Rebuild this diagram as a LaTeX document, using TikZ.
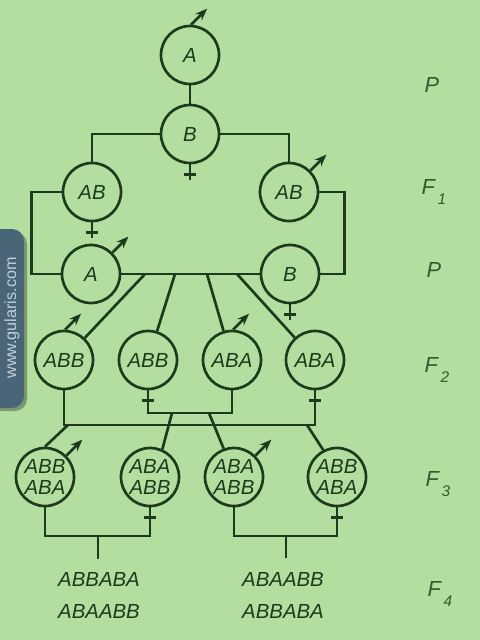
\documentclass[tikz,border=0pt]{standalone}
\usepackage{fontspec}
\setmainfont{Liberation Sans}
\usetikzlibrary{arrows.meta}
\definecolor{paper}{HTML}{B3DE9F}
\definecolor{ink}{HTML}{1E3A1C}
\definecolor{tag}{HTML}{2E5E30}
\definecolor{badge}{HTML}{4A6478}
\definecolor{badgetext}{HTML}{C2D0DA}

\tikzset{
  cell/.style={circle, draw=ink, line width=1.9pt, minimum size=1.45cm, inner sep=0pt,
               text=ink, align=center, font=\fontsize{14.5}{15.5}\selectfont\itshape},
  seq/.style={text=ink, font=\fontsize{14.5}{15.5}\selectfont\itshape},
  gen/.style={text=tag, font=\fontsize{15.5}{16}\selectfont\itshape},
  wire/.style={draw=ink, line width=1.9pt},
}
\newcommand{\male}[2]{\draw[wire, -{Stealth[length=3mm,width=2.3mm]}] (#1.#2) -- ++(0.4cm,0.4cm);}
\newcommand{\female}[1]{\draw[wire] (#1.south) -- ++(0,16) (#1.south) ++(-6,10) -- ++(12,0);}
\newcommand{\gsub}[1]{\kern0.12em\raisebox{-0.45em}{\fontsize{11}{11}\selectfont #1}}

\begin{document}
\begin{tikzpicture}[x=0.025cm, y=-0.025cm]
  \fill[paper] (0,0) rectangle (480,640);
  \useasboundingbox (0,0) rectangle (480,640);

  % site badge
  \fill[black, opacity=0.3, rounded corners=0.3cm] (-12,232) rectangle (27,411);
  \fill[badge, rounded corners=0.3cm] (-12,229) rectangle (24,408);
  \node[rotate=90, text=badgetext, font=\fontsize{11.5}{12}\selectfont] (site) at (12,318) {www.gularis.com};

  % parents
  \node[cell] (Atop) at (190,55) {A};
  \node[cell] (Btop) at (190,134) {B};
  % F1
  \node[cell] (ABl) at (92,192) {AB};
  \node[cell] (ABr) at (289,192) {AB};
  % backcross parents
  \node[cell] (Al) at (91,274) {A};
  \node[cell] (Br) at (290,274) {B};
  % F2
  \node[cell] (ABB1) at (64,360) {ABB};
  \node[cell] (ABB2) at (148,360) {ABB};
  \node[cell] (ABA1) at (232,360) {ABA};
  \node[cell] (ABA2) at (315,360) {ABA};
  % F3
  \node[cell] (Ca) at (45,477) {ABB\\ABA};
  \node[cell] (Cb) at (150,477) {ABA\\ABB};
  \node[cell] (Cc) at (234,477) {ABA\\ABB};
  \node[cell] (Cd) at (337,477) {ABB\\ABA};
  % F4
  \node[seq] (Da) at (99,579) {ABBABA};
  \node[seq] (Db) at (99,611) {ABAABB};
  \node[seq] (Dc) at (283,579) {ABAABB};
  \node[seq] (Dd) at (283,611) {ABBABA};

  % generations
  \node[gen] (g0) at (432,85) {P};
  \node[gen] (g1) at (434,192) {F\gsub{1}};
  \node[gen] (g2) at (434,270) {P};
  \node[gen] (g3) at (437,370) {F\gsub{2}};
  \node[gen] (g4) at (438,484) {F\gsub{3}};
  \node[gen] (g5) at (440,594) {F\gsub{4}};

  % crosses
  \draw[wire] (Atop) -- (Btop);
  \draw[wire] (ABl.north) |- (Btop.west);
  \draw[wire] (ABr.north) |- (Btop.east);
  \draw[wire] (ABl.west) -- ++(-30,0) |- (Al.west);
  \draw[wire] (ABr.east) -- ++(25,0) |- (Br.east);
  \draw[wire] (Al.east) -- (Br.west);

  \coordinate (m1) at (145,274);
  \coordinate (m2) at (175,274);
  \coordinate (m3) at (207,274);
  \coordinate (m4) at (237,274);
  \draw[wire] (m1) -- (ABB1);
  \draw[wire] (m2) -- (ABB2);
  \draw[wire] (m3) -- (ABA1);
  \draw[wire] (m4) -- (ABA2);

  \coordinate (k1) at (190,425);
  \coordinate (k2) at (190,413);
  \draw[wire] (ABB1.south) |- (k1) -| (ABA2.south);
  \draw[wire] (ABB2.south) |- (k2) -| (ABA1.south);
  \coordinate (s1) at (68,425);
  \coordinate (s2) at (172,413);
  \coordinate (s3) at (209,413);
  \coordinate (s4) at (307,425);
  \draw[wire] (s1) -- (Ca.north);
  \draw[wire] (s2) -- (Cb.66);
  \draw[wire] (s3) -- (Cc.110);
  \draw[wire] (s4) -- (Cd.117);

  \coordinate (j1) at (98,536);
  \coordinate (j2) at (286,536);
  \draw[wire] (Ca.south) |- (j1) -| (Cb.south);
  \draw[wire] (Cc.south) |- (j2) -| (Cd.south);
  \draw[wire] (j1) -- ++(0,23);
  \draw[wire] (j2) -- ++(0,22);

  % sexes
  \male{Atop}{88}
  \male{ABr}{45}
  \male{Al}{45}
  \male{ABB1}{88}
  \male{ABA1}{88}
  \male{Ca}{45}
  \male{Cc}{45}
  \female{Btop}
  \female{ABl}
  \female{Br}
  \female{ABB2}
  \female{ABA2}
  \female{Cb}
  \female{Cd}
\end{tikzpicture}
\end{document}
